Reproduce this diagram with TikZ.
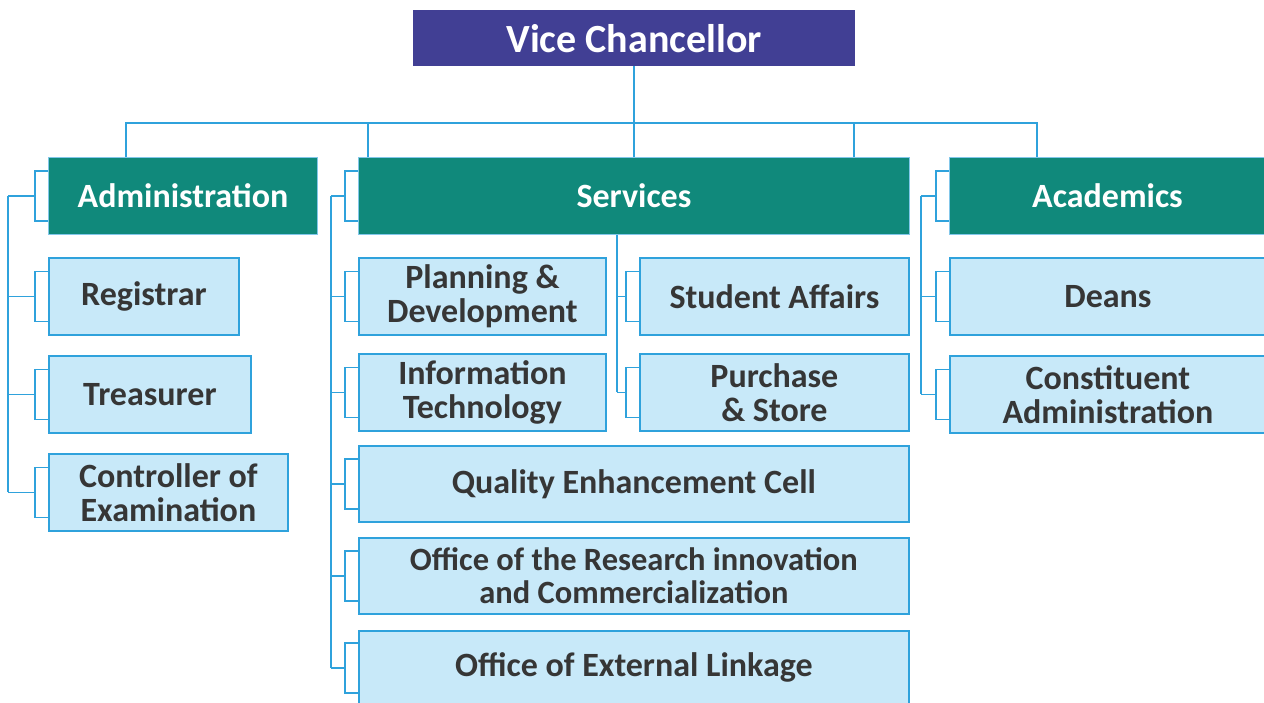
\documentclass[tikz,border=0pt]{standalone}
\usepackage{fontspec}
\setmainfont{Carlito}
\usepackage{tikz}

\definecolor{vcblue}{HTML}{413F94}
\definecolor{teal}{HTML}{10897B}
\definecolor{paleblue}{HTML}{C8E9F9}
\definecolor{edgeblue}{HTML}{2FA2DC}
\definecolor{inkgray}{HTML}{363636}

\tikzset{
  link/.style={draw=edgeblue, line width=1.5pt},
  unit/.style={anchor=north west, inner sep=0pt, minimum height=77pt, align=center,
    font=\fontsize{34}{34}\selectfont\bfseries},
  head/.style={unit, fill=teal, draw=edgeblue!60, line width=1pt, text=white},
  office/.style={unit, fill=paleblue, draw=edgeblue, line width=1.8pt, text=inkgray}
}

\begin{document}
\begin{tikzpicture}[x=1pt,y=-1pt]
\useasboundingbox (0,0) rectangle (1264,702);
\clip (0,0) rectangle (1264,702);

\node[anchor=north west, inner sep=0pt, minimum width=442pt, minimum height=56pt,
  fill=vcblue, text=white, font=\fontsize{40}{40}\selectfont\bfseries] (vc) at (413,10) {Vice Chancellor};

% first level
\node[head, minimum width=269pt] (adm) at (48,157) {Administration};
\node[head, minimum width=551pt] (svc) at (358,157) {Services};
\node[head, minimum width=316pt] (aca) at (949,157) {Academics};

% administration
\node[office, minimum width=190pt] (reg) at (48,257) {Registrar};
\node[office, minimum width=202pt] (tre) at (48,355) {Treasurer};
\node[office, minimum width=239pt] (ctl) at (48,453) {Controller of\\Examination};

% services
\node[office, minimum width=247pt] (pd) at (358,257) {Planning \&\\Development};
\node[office, minimum width=247pt] (it) at (358,353) {Information\\Technology};
\node[office, minimum width=269pt] (sa) at (639,257) {Student Affairs};
\node[office, minimum width=269pt] (ps) at (639,353) {Purchase\\\& Store};
\node[office, minimum width=550pt, minimum height=76pt] (qec) at (358,445) {Quality Enhancement Cell};
\node[office, minimum width=550pt, minimum height=76pt,
  font=\fontsize{32.5}{33}\selectfont\bfseries] (oric) at (358,537) {Office of the Research innovation\\and Commercialization};
\node[office, minimum width=550pt, minimum height=74pt] (oel) at (358,630) {Office of External Linkage};

% academics
\node[office, minimum width=316pt] (dea) at (949,257) {Deans};
\node[office, minimum width=316pt] (con) at (949,355) {Constituent\\Administration};

% top bus
\coordinate (bus) at (0,123);
\draw[link] (vc.south) -- (vc.south |- bus);
\draw[link] ([xshift=78pt]adm.north west) -- ([xshift=78pt]adm.north west |- bus)
  -- ([xshift=88pt]aca.north west |- bus) -- ([xshift=88pt]aca.north west);
\draw[link] ([xshift=10pt]svc.north west) -- ([xshift=10pt]svc.north west |- bus);
\draw[link] (svc.north) -- (svc.north |- bus);
\draw[link] ([xshift=-56pt]svc.north east) -- ([xshift=-56pt]svc.north east |- bus);

% brackets
\foreach \n in {adm,reg,tre,ctl,svc,pd,it,sa,ps,qec,oric,oel,aca,dea,con}
  \draw[link] ([yshift=25pt]\n.west) -- ++(-13pt,0) -- ++(0,-50pt) -- ++(13pt,0);

% spines
\foreach \n in {adm,reg,tre,ctl}
  \draw[link] ([xshift=-13pt]\n.west) -- ([xshift=-40pt]\n.west);
\draw[link] ([xshift=-40pt]adm.west) -- ([xshift=-40pt]ctl.west);

\foreach \n in {svc,pd,it,qec,oric,oel}
  \draw[link] ([xshift=-13pt]\n.west) -- ([xshift=-27pt]\n.west);
\draw[link] ([xshift=-27pt]svc.west) -- ([xshift=-27pt]oel.west);

\foreach \n in {sa,ps}
  \draw[link] ([xshift=-13pt]\n.west) -- ([xshift=-22pt]\n.west);
\draw[link] ([xshift=-22pt]ps.west |- svc.south) -- ([xshift=-22pt]ps.west);

\foreach \n in {aca,dea,con}
  \draw[link] ([xshift=-13pt]\n.west) -- ([xshift=-28pt]\n.west);
\draw[link] ([xshift=-28pt]aca.west) -- ([xshift=-28pt]con.west);
\end{tikzpicture}
\end{document}
